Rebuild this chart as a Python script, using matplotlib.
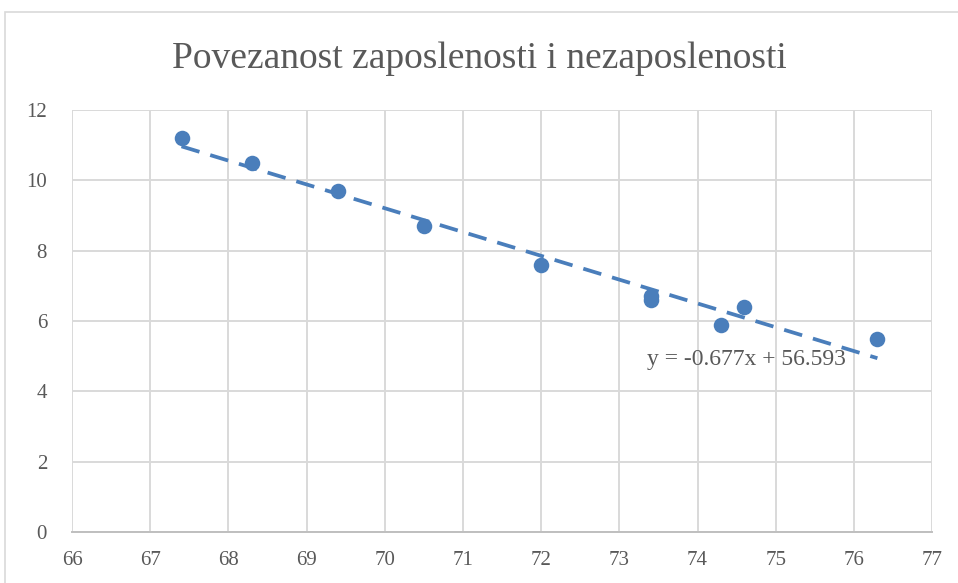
import numpy as np
import matplotlib.pyplot as plt
from matplotlib.patches import Rectangle

# zaposlenost (x) vs nezaposlenost (y)
zaposlenost = [67.4, 68.3, 69.4, 70.5, 72.0, 73.4, 73.4, 74.3, 74.6, 76.3]
nezaposlenost = [11.2, 10.5, 9.7, 8.7, 7.6, 6.7, 6.6, 5.9, 6.4, 5.5]
x_ticks = list(range(66, 78))
y_ticks = list(range(0, 13, 2))

plt.rcParams['font.family'] = ['Liberation Serif', 'DejaVu Serif']
gray = '#595959'
blue = '#4a7ebb'

fig = plt.figure(figsize=(9.58, 5.83), dpi=100)
ax = fig.add_axes([0.0752, 0.0875, 0.8978, 0.7238])

# chart border (cropped at right/bottom)
fig.patches.append(Rectangle((5 / 958, -0.1), 1.2, 1 - 12 / 583 + 0.1,
                             transform=fig.transFigure, fill=False,
                             edgecolor='#d9d9d9', linewidth=1.2))

x = np.array(zaposlenost)
y = np.array(nezaposlenost)
k, n = np.polyfit(x, y, 1)
xs = np.array([x.min(), x.max()])
ax.plot(xs, k * xs + n, color=blue, linewidth=2.7, linestyle=(0, (5, 3)), zorder=3)
ax.scatter(x, y, s=125, color=blue, zorder=4, linewidths=0)

ax.text(73.35, 4.9, 'y = -0.677x + 56.593', fontsize=17, color=gray,
        va='center', ha='left', zorder=5)

ax.set_xlim(66, 77)
ax.set_ylim(0, 12)
ax.set_xticks(x_ticks)
ax.set_yticks(y_ticks)
ax.grid(True, color='#d9d9d9', linewidth=1.4)
ax.set_axisbelow(True)
for s in ['top', 'right', 'left']:
    ax.spines[s].set_visible(False)
ax.spines['bottom'].set_color('#bfbfbf')
ax.spines['bottom'].set_linewidth(1.4)
ax.tick_params(length=0, labelsize=15, labelcolor=gray, pad=14)
ax.tick_params(axis='y', pad=18)

fig.text(0.5, 0.9, 'Povezanost zaposlenosti i nezaposlenosti', ha='center',
         va='center', fontsize=27, color=gray)

fig.savefig('out.png', dpi=100)
